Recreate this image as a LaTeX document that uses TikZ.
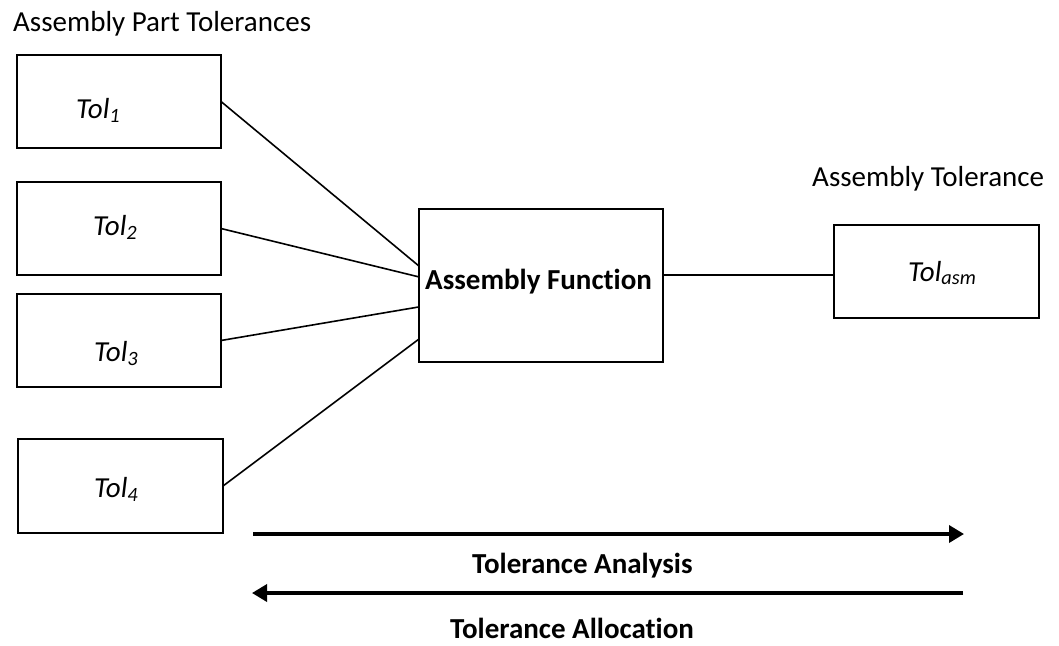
\documentclass[tikz,border=0pt]{standalone}
\usepackage{fontspec}
\setmainfont[Ligatures=NoCommon]{Carlito}
\usetikzlibrary{arrows.meta,calc}
\begin{document}
\begin{tikzpicture}[x=1pt,y=-1pt,
  box/.style={draw, line width=1.8pt, rectangle, inner sep=0pt, outer sep=0pt},
  link/.style={line width=1.6pt},
  flow/.style={line width=3.5pt, -{Triangle[length=15pt,width=17pt]}},
  lbl/.style={inner sep=0pt, anchor=base west, font=\fontsize{29}{34}\selectfont},
  tol/.style={lbl, font=\fontsize{29}{34}\selectfont\itshape},
  head/.style={lbl, font=\fontsize{29}{34}\selectfont\bfseries}
]
\useasboundingbox (0,0) rectangle (1059,645);

% part tolerance boxes
\node[box, minimum width=204pt, minimum height=93pt] (t1) at (119,101.5) {};
\node[box, minimum width=204pt, minimum height=93pt] (t2) at (119,228.5) {};
\node[box, minimum width=204pt, minimum height=93pt] (t3) at (119,340.5) {};
\node[box, minimum width=205pt, minimum height=94pt] (t4) at (120.5,486) {};

% assembly function and assembly tolerance boxes
\node[box, minimum width=244pt, minimum height=153pt] (af) at (541,285.5) {};
\node[box, minimum width=205pt, minimum height=93pt] (asm) at (936.5,271.5) {};

% texts
\node[lbl] (ttl) at (13,31.5) {Assembly Part Tolerances};
\node[lbl] (ttr) at (812,186) {Assembly Tolerance};
\node[tol] (t1txt) at (76,118) {Tol\textsubscript{1}};
\node[tol] (t2txt) at (93,235) {Tol\textsubscript{2}};
\node[tol] (t3txt) at (94,361) {Tol\textsubscript{3}};
\node[tol] (t4txt) at (94,497) {Tol\textsubscript{4}};
\node[tol] (asmtxt) at (908,281) {Tol\textsubscript{asm}};
\node[head] (aftxt) at (425,289) {Assembly Function};

% connectors into the assembly function
\draw[link] (t1.east) -- ($(af.north west)!0.373!(af.south west)$);
\draw[link] (t2.east) -- ($(af.north west)!0.444!(af.south west)$);
\draw[link] (t3.east) -- ($(af.north west)!0.640!(af.south west)$);
\draw[link] (t4.east) -- ($(af.north west)!0.850!(af.south west)$);
\coordinate (afout) at ($(af.north east)!0.433!(af.south east)$);
\draw[link] (afout) -- (afout -| asm.west);

% analysis / allocation directions
\coordinate (anL) at (253,534);
\coordinate (anR) at (964,534);
\coordinate (alL) at (252,593);
\coordinate (alR) at (963,593);
\draw[flow] (anL) -- (anR);
\draw[flow] (alR) -- (alL);
\node[head] (antxt) at (472,573) {Tolerance Analysis};
\node[head] (altxt) at (450,638.5) {Tolerance Allocation};
\end{tikzpicture}
\end{document}
